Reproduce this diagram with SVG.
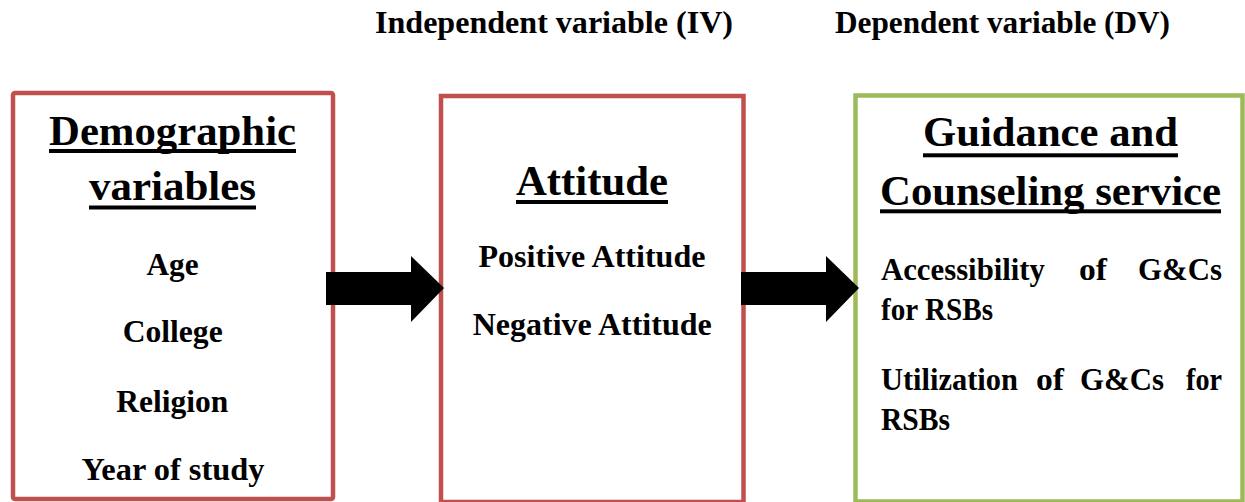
<svg xmlns="http://www.w3.org/2000/svg" width="1245" height="502" viewBox="0 0 1245 502">
<style>
  .t{font-family:'Liberation Serif','Times New Roman',Tinos,'DejaVu Serif',serif;font-weight:700;fill:#000}
  .b{font-size:31.5px}
  .h{font-size:42.5px}
  .m{text-anchor:middle}
  .e{text-anchor:end}
  .red{fill:#fff;stroke:#C0504D;stroke-width:4.5}
  .green{fill:#fff;stroke:#9BBB59;stroke-width:4.5}
  .ul{fill:#000}
  .arrow{fill:#000}
</style>
<rect width="1245" height="502" fill="#fff"/>
<g id="labels">
  <text class="t b" x="375" y="33" textLength="358" lengthAdjust="spacingAndGlyphs">Independent variable (IV)</text>
  <text class="t b" x="835" y="33" textLength="335" lengthAdjust="spacingAndGlyphs">Dependent variable (DV)</text>
</g>
<g id="node-demographic">
  <rect class="red" x="13" y="93" width="320" height="406" rx="2"/>
  <text class="t h m" x="172.5" y="145" textLength="247" lengthAdjust="spacingAndGlyphs">Demographic</text>
  <rect class="ul" x="49" y="149" width="247" height="4"/>
  <text class="t h m" x="172.5" y="200" textLength="167" lengthAdjust="spacingAndGlyphs">variables</text>
  <rect class="ul" x="89" y="205.5" width="167" height="4"/>
  <text class="t b m" x="172.5" y="275" textLength="52" lengthAdjust="spacingAndGlyphs">Age</text>
  <text class="t b m" x="172.7" y="342" textLength="100" lengthAdjust="spacingAndGlyphs">College</text>
  <text class="t b m" x="172.2" y="412" textLength="112" lengthAdjust="spacingAndGlyphs">Religion</text>
  <text class="t b m" x="173" y="480" textLength="183" lengthAdjust="spacingAndGlyphs">Year of study</text>
</g>
<g id="node-attitude">
  <rect class="red" x="441" y="96" width="302.5" height="406"/>
  <text class="t h m" x="592" y="195" textLength="152" lengthAdjust="spacingAndGlyphs">Attitude</text>
  <rect class="ul" x="516" y="200" width="152" height="4"/>
  <text class="t b m" x="592" y="267" textLength="227" lengthAdjust="spacingAndGlyphs">Positive Attitude</text>
  <text class="t b m" x="592.2" y="335" textLength="239" lengthAdjust="spacingAndGlyphs">Negative Attitude</text>
</g>
<g id="node-guidance">
  <rect class="green" x="855.5" y="95.5" width="387" height="406"/>
  <text class="t h m" x="1050.5" y="146" textLength="255" lengthAdjust="spacingAndGlyphs">Guidance and</text>
  <rect class="ul" x="923" y="153.3" width="255" height="4"/>
  <text class="t h m" x="1050.5" y="205" textLength="341" lengthAdjust="spacingAndGlyphs">Counseling service</text>
  <rect class="ul" x="880" y="209.3" width="341" height="4"/>
  <text class="t b" x="881" y="280" textLength="164" lengthAdjust="spacingAndGlyphs">Accessibility</text>
  <text class="t b" x="1079" y="280" textLength="28" lengthAdjust="spacingAndGlyphs">of</text>
  <text class="t b" x="1138" y="280" textLength="84" lengthAdjust="spacingAndGlyphs">G&amp;Cs</text>
  <text class="t b" x="881" y="320" textLength="112" lengthAdjust="spacingAndGlyphs">for RSBs</text>
  <text class="t b" x="881" y="390" textLength="137" lengthAdjust="spacingAndGlyphs">Utilization</text>
  <text class="t b" x="1036" y="390" textLength="28" lengthAdjust="spacingAndGlyphs">of</text>
  <text class="t b" x="1080" y="390" textLength="84" lengthAdjust="spacingAndGlyphs">G&amp;Cs</text>
  <text class="t b" x="1186" y="390" textLength="36" lengthAdjust="spacingAndGlyphs">for</text>
  <text class="t b" x="881" y="430" textLength="69" lengthAdjust="spacingAndGlyphs">RSBs</text>
</g>
<g id="connectors">
  <polygon class="arrow" points="326,272 411,272 411,256 444,288 411,322 411,305 326,305"/>
  <polygon class="arrow" points="741,272 826,272 826,256 859,288 826,322 826,305 741,305"/>
</g>
</svg>
